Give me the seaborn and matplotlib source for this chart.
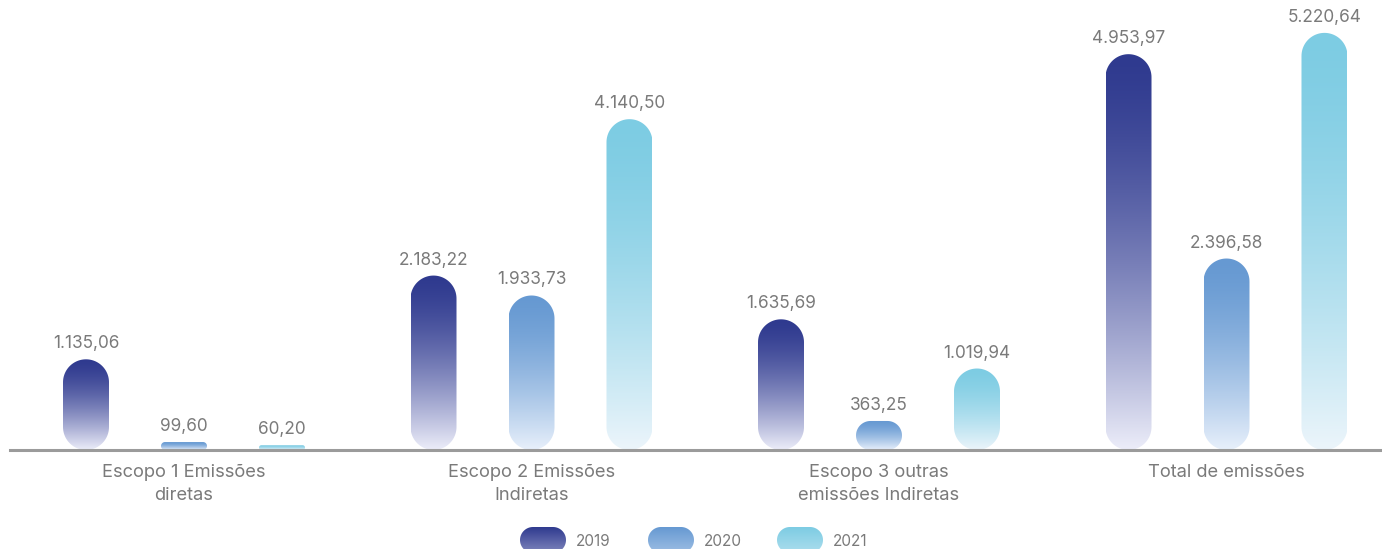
import numpy as np
import pandas as pd
import matplotlib
matplotlib.use("Agg")
import matplotlib.pyplot as plt
import seaborn as sns
from matplotlib.patches import Polygon
from matplotlib.colors import to_rgb

# ---------------- data ----------------
categories = ["Escopo 1 Emissões\ndiretas", "Escopo 2 Emissões\nIndiretas",
              "Escopo 3 outras\nemissões Indiretas", "Total de emissões"]
years = ["2019", "2020", "2021"]
v2019 = [1135.06, 2183.22, 1635.69, 4953.97]
v2020 = [99.60, 1933.73, 363.25, 2396.58]
v2021 = [60.20, 4140.50, 1019.94, 5220.64]

top_colors = {"2019": "#2F3A8F", "2020": "#6699D2", "2021": "#7DCCE3"}
bottom_colors = {"2019": "#ECEDF9", "2020": "#E8F0FB", "2021": "#ECF5FB"}
TXT = "#7a7a7a"

df = pd.DataFrame({
    "categoria": np.repeat(categories, 3),
    "ano": years * len(categories),
    "valor": [v for trio in zip(v2019, v2020, v2021) for v in trio],
})


def fmt_br(v):
    s = f"{v:,.2f}"
    return s.replace(",", "X").replace(".", ",").replace("X", ".")


sns.set_theme(style="white")
plt.rcParams["font.family"] = ["Inter", "DejaVu Sans"]

W, H = 1382, 549
fig = plt.figure(figsize=(W / 100, H / 100), dpi=100)
ax_left_px, base_px = 10, 450
ax = fig.add_axes([ax_left_px / W, (H - base_px) / H, 1 - ax_left_px / W, base_px / H])

sns.barplot(data=df, x="categoria", y="valor", hue="ano", order=categories,
            hue_order=years, width=0.846, ax=ax, legend=False)

group_px = 347.5
first_center_px = 184
px_per_unit_y = 0.0799
xmin = (ax_left_px - first_center_px) / group_px
xmax = (W - first_center_px) / group_px
ymax = base_px / px_per_unit_y
ax.set_xlim(xmin, xmax)
ax.set_ylim(0, ymax)

sx = group_px           # px per x unit
sy = px_per_unit_y      # px per y unit
bar_w_px = 46


def pill_pts(w, h, n=24):
    """pill outline in pixel units, origin at bottom-centre"""
    r = min(w / 2, h / 2)
    pts = []
    for t in np.linspace(-np.pi / 2, 0, n):
        pts.append((w / 2 - r + r * np.cos(t), r + r * np.sin(t)))
    for t in np.linspace(0, np.pi / 2, n):
        pts.append((w / 2 - r + r * np.cos(t), h - r + r * np.sin(t)))
    for t in np.linspace(np.pi / 2, np.pi, n):
        pts.append((-w / 2 + r + r * np.cos(t), h - r + r * np.sin(t)))
    for t in np.linspace(np.pi, 1.5 * np.pi, n):
        pts.append((-w / 2 + r + r * np.cos(t), r + r * np.sin(t)))
    return np.array(pts)


def gradient(top, bottom, n=256, power=1.5):
    c0 = np.array(to_rgb(top))
    c1 = np.array(to_rgb(bottom))
    t = np.linspace(0, 1, n) ** power  # 0 = top
    g = c0[None, :] * (1 - t[:, None]) + c1[None, :] * t[:, None]
    return g[:, None, :]


patches = list(ax.patches)
for p in patches:
    p.set_visible(False)

# seaborn orders patches by hue level then category
for hi, yr in enumerate(years):
    for ci in range(len(categories)):
        p = patches[hi * len(categories) + ci]
        xc = p.get_x() + p.get_width() / 2
        val = p.get_height()
        h_px = val * sy
        pts = pill_pts(bar_w_px, h_px)
        data_pts = np.column_stack([xc + pts[:, 0] / sx, pts[:, 1] / sy])
        poly = Polygon(data_pts, closed=True, facecolor="none", edgecolor="none",
                       transform=ax.transData)
        ax.add_patch(poly)
        im = ax.imshow(gradient(top_colors[yr], bottom_colors[yr]),
                       extent=[xc - bar_w_px / 2 / sx, xc + bar_w_px / 2 / sx, 0, val],
                       aspect="auto", interpolation="bilinear", zorder=2)
        im.set_clip_path(poly)
        ax.annotate(fmt_br(val), xy=(xc, val), xytext=(0, 7), textcoords="offset pixels",
                    ha="center", va="bottom", fontsize=12.4, color=TXT)

ax.set_xlim(xmin, xmax)
ax.set_ylim(0, ymax)

for i, cat in enumerate(categories):
    ax.annotate(cat, xy=(i, 0), xytext=(0, -14), textcoords="offset pixels",
                ha="center", va="top", fontsize=13.2, color=TXT, linespacing=1.5,
                annotation_clip=False)

ax.set_xlabel("")
ax.set_ylabel("")
ax.set_xticks([])
ax.set_yticks([])
for s in ["top", "left", "right"]:
    ax.spines[s].set_visible(False)
ax.spines["bottom"].set_color("#9b9b9b")
ax.spines["bottom"].set_linewidth(2.2)
ax.patch.set_alpha(0)

# ---------------- legend (pixel overlay) ----------------
lax = fig.add_axes([0, 0, 1, 1])
lax.set_xlim(0, W)
lax.set_ylim(H, 0)
lax.axis("off")
lax.patch.set_alpha(0)
legend_x = [520, 648, 777]
for yr, lx in zip(years, legend_x):
    w, h = 46, 26
    top = 527
    pts = pill_pts(w, h)
    xy = np.column_stack([lx + w / 2 + pts[:, 0], top + h - pts[:, 1]])
    poly = Polygon(xy, closed=True, facecolor="none", edgecolor="none")
    lax.add_patch(poly)
    g = gradient(top_colors[yr], bottom_colors[yr], power=1.0)[:110]
    im = lax.imshow(g, extent=[lx, lx + w, top + h, top], aspect="auto",
                    interpolation="bilinear")
    im.set_clip_path(poly)
    lax.text(lx + w + 10, 542, yr, ha="left", va="center", fontsize=11, color=TXT)
lax.set_xlim(0, W)
lax.set_ylim(H, 0)

fig.savefig("out.png", dpi=100)
